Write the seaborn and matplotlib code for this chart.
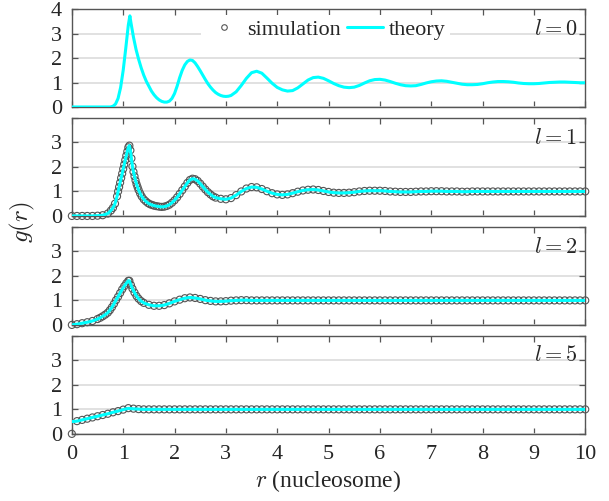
import matplotlib
matplotlib.use("Agg")
import matplotlib.pyplot as plt
from matplotlib.lines import Line2D
import seaborn as sns

# l = 0: theory only, finer spacing around the first sharp peak
r_theory_l0 = [
    0.0, 0.5, 0.75, 0.8, 0.85, 0.9, 0.95, 1.0, 1.05, 1.1,
    1.13, 1.15, 1.2, 1.25, 1.3, 1.35, 1.4, 1.45, 1.5, 1.55,
    1.6, 1.65, 1.7, 1.75, 1.8, 1.85, 1.9, 1.95, 2.0, 2.05,
    2.1, 2.15, 2.2, 2.25, 2.3, 2.35, 2.4, 2.45, 2.5, 2.55,
    2.6, 2.65, 2.7, 2.75, 2.8, 2.85, 2.9, 2.95, 3.0, 3.05,
    3.1, 3.2, 3.3, 3.4, 3.5, 3.6, 3.7, 3.8, 3.9,
    4.0, 4.1, 4.2, 4.3, 4.4, 4.5, 4.6, 4.7, 4.8, 4.9,
    5.0, 5.1, 5.2, 5.3, 5.4, 5.5, 5.6, 5.7, 5.8, 5.9,
    6.0, 6.1, 6.2, 6.3, 6.4, 6.5, 6.6, 6.7, 6.8, 6.9,
    7.0, 7.1, 7.2, 7.3, 7.4, 7.5, 7.6, 7.7, 7.8, 7.9,
    8.0, 8.1, 8.2, 8.3, 8.4, 8.5, 8.6, 8.7, 8.8, 8.9,
    9.0, 9.1, 9.2, 9.3, 9.4, 9.5, 9.6, 9.7, 9.8, 9.9,
    10.0,
]
theory_l0 = [
    0.0, 0.0, 0.0, 0.03, 0.12, 0.35, 0.8, 1.5, 2.4, 3.35,
    3.72, 3.45, 2.85, 2.35, 1.95, 1.6, 1.3, 1.05, 0.85, 0.65,
    0.5, 0.38, 0.29, 0.23, 0.2, 0.2, 0.24, 0.35, 0.55, 0.85,
    1.2, 1.5, 1.72, 1.86, 1.92, 1.9, 1.8, 1.65, 1.48, 1.3,
    1.12, 0.95, 0.81, 0.69, 0.59, 0.52, 0.47, 0.44, 0.43, 0.44,
    0.47, 0.62, 0.88, 1.17, 1.4, 1.46, 1.38, 1.18, 0.97,
    0.8, 0.7, 0.65, 0.67, 0.78, 0.94, 1.1, 1.2, 1.22, 1.17,
    1.07, 0.96, 0.87, 0.81, 0.79, 0.81, 0.88, 0.98, 1.07, 1.12,
    1.13, 1.1, 1.04, 0.97, 0.91, 0.87, 0.86, 0.87, 0.92, 0.98,
    1.03, 1.06, 1.07, 1.05, 1.01, 0.97, 0.93, 0.91, 0.91, 0.92,
    0.95, 0.99, 1.02, 1.04, 1.04, 1.03, 1.01, 0.98, 0.96, 0.95,
    0.95, 0.96, 0.98, 1.0, 1.01, 1.02, 1.02, 1.01, 1.0, 0.99,
    0.99,
]

# l = 1: simulation points (denser where the curve is steep, as in the figure)
r_l1 = [
    0.0, 0.1, 0.2, 0.3, 0.4, 0.5, 0.6, 0.7,
    0.76, 0.8, 0.84, 0.88, 0.9, 0.92, 0.94, 0.96, 0.98, 1.0,
    1.02, 1.04, 1.06, 1.08, 1.1, 1.12, 1.14, 1.16, 1.18, 1.2,
    1.22, 1.24, 1.26, 1.28, 1.3, 1.33, 1.36, 1.4, 1.44, 1.48,
    1.52, 1.56, 1.6, 1.65, 1.7, 1.75, 1.8, 1.85, 1.9, 1.95,
    2.0, 2.05, 2.1, 2.15, 2.2, 2.25, 2.3, 2.35, 2.4, 2.45,
    2.5, 2.55, 2.6, 2.65, 2.7, 2.75, 2.8, 2.9,
    3.0, 3.1, 3.2, 3.3, 3.4, 3.5, 3.6, 3.7, 3.8, 3.9,
    4.0, 4.1, 4.2, 4.3, 4.4, 4.5, 4.6, 4.7, 4.8, 4.9,
    5.0, 5.1, 5.2, 5.3, 5.4, 5.5, 5.6, 5.7, 5.8, 5.9,
    6.0, 6.1, 6.2, 6.3, 6.4, 6.5, 6.6, 6.7, 6.8, 6.9,
    7.0, 7.1, 7.2, 7.3, 7.4, 7.5, 7.6, 7.7, 7.8, 7.9,
    8.0, 8.1, 8.2, 8.3, 8.4, 8.5, 8.6, 8.7, 8.8, 8.9,
    9.0, 9.1, 9.2, 9.3, 9.4, 9.5, 9.6, 9.7, 9.8, 9.9,
    10.0,
]
sim_l1 = [
    0.0, 0.0, 0.0, 0.0, 0.0, 0.01, 0.03, 0.1,
    0.22, 0.33, 0.5, 0.8, 1.0, 1.18, 1.36, 1.55, 1.73, 1.92,
    2.1, 2.28, 2.46, 2.63, 2.8, 2.87, 2.68, 2.35, 2.02, 1.8,
    1.62, 1.45, 1.3, 1.18, 1.06, 0.92, 0.8, 0.68, 0.6, 0.53,
    0.48, 0.45, 0.42, 0.4, 0.38, 0.37, 0.38, 0.41, 0.46, 0.54,
    0.64, 0.76, 0.9, 1.05, 1.2, 1.35, 1.47, 1.52, 1.5, 1.43,
    1.32, 1.2, 1.08, 0.97, 0.88, 0.8, 0.75, 0.7,
    0.68, 0.73, 0.85, 1.0, 1.12, 1.18, 1.17, 1.1, 1.01, 0.93,
    0.88, 0.86, 0.88, 0.93, 0.99, 1.04, 1.07, 1.08, 1.06, 1.02,
    0.98, 0.95, 0.94, 0.94, 0.95, 0.97, 1.0, 1.02, 1.03, 1.03,
    1.03, 1.02, 1.0, 0.99, 0.98, 0.98, 0.98, 0.99, 1.0, 1.0,
    1.01, 1.01, 1.01, 1.0, 1.0, 1.0, 0.99, 0.99, 1.0, 1.0,
    1.0, 1.0, 1.0, 1.0, 1.0, 1.0, 1.0, 1.0, 1.0, 1.0,
    1.0, 1.0, 1.0, 1.0, 1.0, 1.0, 1.0, 1.0, 1.0, 1.0,
    1.0,
]
theory_l1 = sim_l1  # theory and simulation coincide within the line width

# l = 2
r_l2 = [
    0.0, 0.1, 0.2, 0.3, 0.4, 0.5, 0.55, 0.6, 0.65, 0.7,
    0.74, 0.78, 0.82, 0.86, 0.9, 0.94, 0.98, 1.02, 1.06, 1.1,
    1.12, 1.15, 1.18, 1.22, 1.26, 1.3, 1.35, 1.4, 1.5, 1.6,
    1.7, 1.8, 1.9, 2.0, 2.1, 2.2, 2.3, 2.4, 2.5, 2.6,
    2.7, 2.8, 2.9, 3.0, 3.1, 3.2, 3.3, 3.4, 3.5, 3.6,
    3.7, 3.8, 3.9, 4.0, 4.1, 4.2, 4.3, 4.4, 4.5, 4.6,
    4.7, 4.8, 4.9, 5.0, 5.1, 5.2, 5.3, 5.4, 5.5, 5.6,
    5.7, 5.8, 5.9, 6.0, 6.1, 6.2, 6.3, 6.4, 6.5, 6.6,
    6.7, 6.8, 6.9, 7.0, 7.1, 7.2, 7.3, 7.4, 7.5, 7.6,
    7.7, 7.8, 7.9, 8.0, 8.1, 8.2, 8.3, 8.4, 8.5, 8.6,
    8.7, 8.8, 8.9, 9.0, 9.1, 9.2, 9.3, 9.4, 9.5, 9.6,
    9.7, 9.8, 9.9, 10.0,
]
sim_l2 = [
    0.0, 0.03, 0.07, 0.11, 0.16, 0.24, 0.29, 0.35, 0.42, 0.5,
    0.6, 0.72, 0.86, 1.01, 1.15, 1.3, 1.45, 1.58, 1.7, 1.8,
    1.8, 1.63, 1.48, 1.32, 1.18, 1.07, 0.97, 0.9, 0.82, 0.78,
    0.78, 0.81, 0.88, 0.96, 1.03, 1.09, 1.12, 1.1, 1.06, 1.01,
    0.98, 0.96, 0.96, 0.97, 0.99, 1.0, 1.01, 1.01, 1.0, 1.0,
    1.0, 1.0, 1.0, 1.0, 1.0, 1.0, 1.0, 1.0, 1.0, 1.0,
    1.0, 1.0, 1.0, 1.0, 1.0, 1.0, 1.0, 1.0, 1.0, 1.0,
    1.0, 1.0, 1.0, 1.0, 1.0, 1.0, 1.0, 1.0, 1.0, 1.0,
    1.0, 1.0, 1.0, 1.0, 1.0, 1.0, 1.0, 1.0, 1.0, 1.0,
    1.0, 1.0, 1.0, 1.0, 1.0, 1.0, 1.0, 1.0, 1.0, 1.0,
    1.0, 1.0, 1.0, 1.0, 1.0, 1.0, 1.0, 1.0, 1.0, 1.0,
    1.0, 1.0, 1.0, 1.0,
]
theory_l2 = sim_l2

# l = 5
r_l5 = [
    0.0, 0.1, 0.2, 0.3, 0.4, 0.5, 0.6, 0.7, 0.8, 0.9,
    1.0, 1.1, 1.2, 1.3, 1.4, 1.5, 1.6, 1.7, 1.8, 1.9,
    2.0, 2.1, 2.2, 2.3, 2.4, 2.5, 2.6, 2.7, 2.8, 2.9,
    3.0, 3.1, 3.2, 3.3, 3.4, 3.5, 3.6, 3.7, 3.8, 3.9,
    4.0, 4.1, 4.2, 4.3, 4.4, 4.5, 4.6, 4.7, 4.8, 4.9,
    5.0, 5.1, 5.2, 5.3, 5.4, 5.5, 5.6, 5.7, 5.8, 5.9,
    6.0, 6.1, 6.2, 6.3, 6.4, 6.5, 6.6, 6.7, 6.8, 6.9,
    7.0, 7.1, 7.2, 7.3, 7.4, 7.5, 7.6, 7.7, 7.8, 7.9,
    8.0, 8.1, 8.2, 8.3, 8.4, 8.5, 8.6, 8.7, 8.8, 8.9,
    9.0, 9.1, 9.2, 9.3, 9.4, 9.5, 9.6, 9.7, 9.8, 9.9,
    10.0,
]
sim_l5 = [
    0.0, 0.52, 0.57, 0.62, 0.67, 0.72, 0.77, 0.82, 0.88, 0.93,
    0.99, 1.05, 1.03, 1.01, 1.0, 1.0, 1.0, 1.0, 1.0, 1.0,
    1.0, 1.0, 1.0, 1.0, 1.0, 1.0, 1.0, 1.0, 1.0, 1.0,
    1.0, 1.0, 1.0, 1.0, 1.0, 1.0, 1.0, 1.0, 1.0, 1.0,
    1.0, 1.0, 1.0, 1.0, 1.0, 1.0, 1.0, 1.0, 1.0, 1.0,
    1.0, 1.0, 1.0, 1.0, 1.0, 1.0, 1.0, 1.0, 1.0, 1.0,
    1.0, 1.0, 1.0, 1.0, 1.0, 1.0, 1.0, 1.0, 1.0, 1.0,
    1.0, 1.0, 1.0, 1.0, 1.0, 1.0, 1.0, 1.0, 1.0, 1.0,
    1.0, 1.0, 1.0, 1.0, 1.0, 1.0, 1.0, 1.0, 1.0, 1.0,
    1.0, 1.0, 1.0, 1.0, 1.0, 1.0, 1.0, 1.0, 1.0, 1.0,
    1.0,
]
theory_l5 = [
    0.5, 0.52, 0.57, 0.62, 0.67, 0.72, 0.77, 0.82, 0.88, 0.93,
    0.99, 1.04, 1.02, 1.01, 1.0, 1.0, 1.0, 1.0, 1.0, 1.0,
    1.0, 1.0, 1.0, 1.0, 1.0, 1.0, 1.0, 1.0, 1.0, 1.0,
    1.0, 1.0, 1.0, 1.0, 1.0, 1.0, 1.0, 1.0, 1.0, 1.0,
    1.0, 1.0, 1.0, 1.0, 1.0, 1.0, 1.0, 1.0, 1.0, 1.0,
    1.0, 1.0, 1.0, 1.0, 1.0, 1.0, 1.0, 1.0, 1.0, 1.0,
    1.0, 1.0, 1.0, 1.0, 1.0, 1.0, 1.0, 1.0, 1.0, 1.0,
    1.0, 1.0, 1.0, 1.0, 1.0, 1.0, 1.0, 1.0, 1.0, 1.0,
    1.0, 1.0, 1.0, 1.0, 1.0, 1.0, 1.0, 1.0, 1.0, 1.0,
    1.0, 1.0, 1.0, 1.0, 1.0, 1.0, 1.0, 1.0, 1.0, 1.0,
    1.0,
]

l_values = [0, 1, 2, 5]
x_ticks = [0, 1, 2, 3, 4, 5, 6, 7, 8, 9, 10]
y_ticks = [0, 1, 2, 3, 4]

CYAN = "#00ffff"
EDGE = "#555555"

sns.set_style("ticks")
plt.rcParams["font.family"] = "serif"
plt.rcParams["font.serif"] = ["Liberation Serif", "DejaVu Serif"]
plt.rcParams["mathtext.fontset"] = "cm"

fig, axes = plt.subplots(4, 1, figsize=(6.09, 5.01), dpi=100, sharex=True)
fig.subplots_adjust(left=0.118, right=0.961, top=0.982, bottom=0.134, hspace=0.112)

panels = [
    (r_theory_l0, theory_l0, None, None),
    (r_l1, theory_l1, r_l1, sim_l1),
    (r_l2, theory_l2, r_l2, sim_l2),
    (r_l5, theory_l5, r_l5, sim_l5),
]

for i, (ax, l, (r_th, g_th, r_s, g_s)) in enumerate(zip(axes, l_values, panels)):
    ax.yaxis.grid(True, color="#d9d9d9", lw=1.1)
    ax.set_axisbelow(True)
    if g_s is not None:
        sns.scatterplot(
            x=r_s, y=g_s, ax=ax, marker="o", s=26,
            facecolor="none", edgecolor=EDGE, linewidth=0.8,
            clip_on=False, zorder=3, legend=False,
        )
    sns.lineplot(x=r_th, y=g_th, ax=ax, color=CYAN, lw=2.2,
                 estimator=None, zorder=4)
    ax.set_xlim(0, 10)
    ax.set_ylim(0, 4)
    ax.set_xticks(x_ticks)
    ax.set_yticks(y_ticks)
    ax.set_yticklabels([str(t) if (t < 4 or i == 0) else "" for t in y_ticks])
    ax.tick_params(direction="in", top=True, right=True, length=4,
                   width=0.9, color=EDGE, labelsize=16)
    ax.tick_params(axis="y", pad=7)
    ax.tick_params(axis="x", pad=8)
    for sp in ax.spines.values():
        sp.set_color(EDGE)
        sp.set_linewidth(1.0)
    ax.text(0.985, 0.79, rf"$l = {l}$", transform=ax.transAxes,
            ha="right", va="center", fontsize=16)
    ax.set_ylabel("")

handles = [
    Line2D([], [], ls="none", marker="o", ms=4, mfc="none", mec=EDGE, mew=0.8),
    Line2D([], [], color=CYAN, lw=2.2),
]
axes[0].legend(
    handles, ["simulation", "theory"], loc="center",
    bbox_to_anchor=(0.494, 0.79), ncol=2, fontsize=16,
    frameon=True, facecolor="white", edgecolor="none", framealpha=1,
    fancybox=False, handlelength=1.6, handletextpad=0.25,
    columnspacing=0.3, borderpad=0.2,
)

axes[-1].set_xlabel("$r$ (nucleosome)", fontsize=17, labelpad=3)
fig.text(22 / 609, 1 - 222 / 501, "$g(r)$", rotation=90,
         ha="center", va="center", fontsize=18)

plt.savefig("out.png", dpi=100)
plt.close(fig)
